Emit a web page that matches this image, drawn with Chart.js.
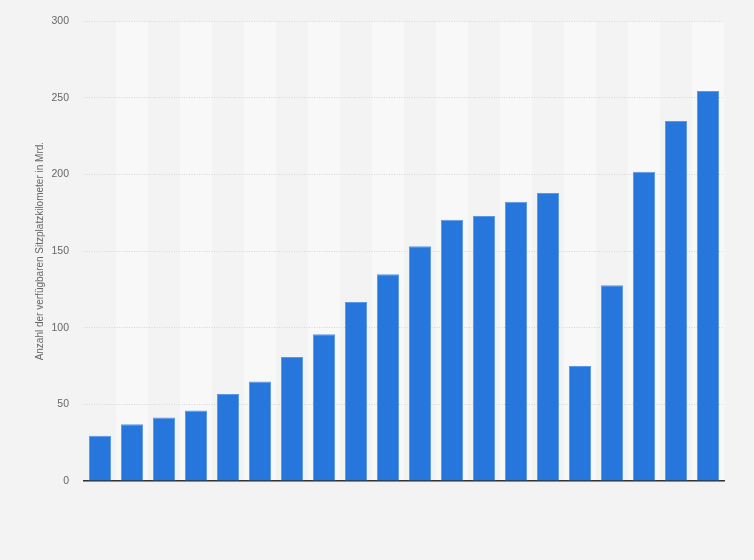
<!DOCTYPE html>
<html>
<head>
<meta charset="utf-8">
<script src="https://cdn.jsdelivr.net/npm/chart.js@4"></script>
<style>
	html, body { margin: 0; padding: 0; background: #f3f3f3; }
	#wrap { width: 754px; height: 560px; }
</style>
</head>
<body>
<div id="wrap"><canvas id="seatChart" width="754" height="560"></canvas></div>
<script>
const years = [
	"2005", "2006", "2007", "2008", "2009", "2010", "2011", "2012", "2013", "2014",
	"2015", "2016", "2017", "2018", "2019", "2020", "2021", "2022", "2023", "2024",
];
const seatKm = [
	29.6, 37, 41.4, 46, 56.8, 65, 81, 95.8, 116.8, 135,
	153.2, 170.5, 173, 182.2, 188, 75, 127.8, 201.8, 235, 254.5,
];
const yTicks = [0, 50, 100, 150, 200, 250, 300];

// abwechselnde Streifen hinter den Balken
const bandPlugin = {
	id: "bands",
	beforeDraw(chart) {
		const ctx = chart.ctx;
		const area = chart.chartArea;
		const x = chart.scales.x;
		ctx.save();
		ctx.fillStyle = "#f3f3f3";
		ctx.fillRect(0, 0, chart.width, chart.height);
		const step = x.getPixelForValue(1) - x.getPixelForValue(0);
		ctx.fillStyle = "#f8f8f8";
		years.forEach((y, i) => {
			if (i % 2 === 1) {
				const cx = x.getPixelForValue(i);
				ctx.fillRect(cx - step / 2, area.top, step, area.bottom - area.top);
			}
		});
		ctx.restore();
	},
};

new Chart(document.getElementById("seatChart"), {
	type: "bar",
	data: {
		labels: years,
		datasets: [
			{
				data: seatKm,
				backgroundColor: "#2776db",
				borderColor: "#5a97e6",
				borderWidth: { top: 1, left: 1, right: 1, bottom: 0 },
				barPercentage: 0.69,
				categoryPercentage: 1,
			},
		],
	},
	options: {
		responsive: false,
		animation: false,
		layout: {
			padding: { left: 28, top: 20, right: 30, bottom: 79 },
		},
		plugins: {
			legend: { display: false },
			tooltip: { enabled: false },
		},
		scales: {
			x: {
				ticks: { display: false },
				grid: { display: false },
				border: { display: true, color: "#333", width: 1.5 },
				afterFit(scale) {
					scale.height = 0;
				},
			},
			y: {
				min: 0,
				max: 300,
				afterBuildTicks(scale) {
					scale.ticks = yTicks.map((v) => ({ value: v }));
				},
				ticks: {
					color: "#666",
					font: { family: "Liberation Sans, Arial", size: 10.5 },
					padding: 15,
				},
				grid: {
					color: "#d6d6d6",
					drawTicks: false,
				},
				border: { display: false, dash: [1, 1.5] },
				title: {
					display: true,
					text: "Anzahl der verfügbaren Sitzplatzkilometer in Mrd.",
					color: "#666",
					font: { family: "Liberation Sans, Arial", size: 10 },
					padding: { top: 6, bottom: 0 },
				},
				afterFit(scale) {
					scale.width = 56;
				},
			},
		},
	},
	plugins: [bandPlugin],
});
</script>
</body>
</html>
